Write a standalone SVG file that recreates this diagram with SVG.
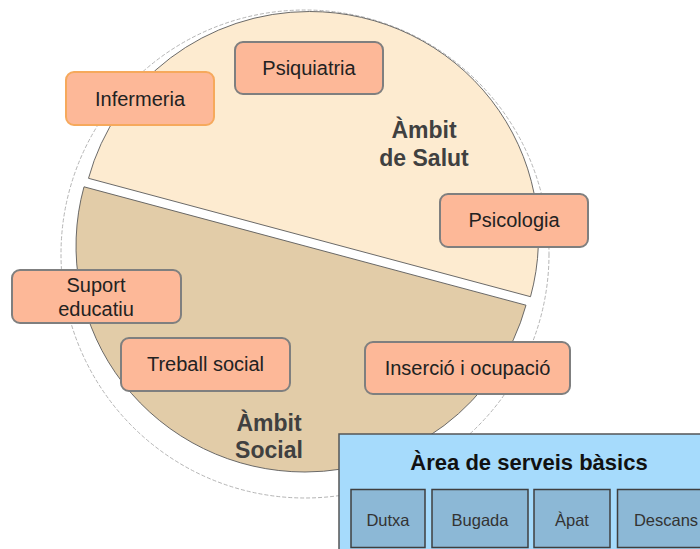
<svg xmlns="http://www.w3.org/2000/svg" width="700" height="549" viewBox="0 0 700 549">
<style>
.pie{stroke:#5a5a5a;stroke-width:0.9}
.box{fill:#fdb898;stroke:#7f7f7f;stroke-width:2}
.bt{font-family:"Liberation Sans",Arial,sans-serif;font-size:20px;fill:#222;text-anchor:middle}
.amb{font-family:"Liberation Sans",Arial,sans-serif;font-size:23px;font-weight:bold;fill:#404040;text-anchor:middle}
.sub{fill:#8cb8d6;stroke:#3f3f3f;stroke-width:1.5}
.st{font-family:"Liberation Sans",Arial,sans-serif;font-size:16.5px;fill:#333;text-anchor:middle}
</style>
<rect width="700" height="549" fill="#fff"/>
<g id="background">
<circle cx="305" cy="254" r="244" fill="none" stroke="#b5b5b5" stroke-width="1" stroke-dasharray="4 2"/>
</g>
<g id="ambit-salut">
<path class="pie" fill="#fdebd0" d="M88.5 178.3 A229 226 0 0 1 309.5 11.5 A229 226 0 0 1 530.5 296.7 Z"/>
<text class="amb" x="424" y="138">Àmbit</text>
<text class="amb" x="424" y="166">de Salut</text>
</g>
<g id="ambit-social">
<path class="pie" fill="#e2cca8" d="M526 305.2 A229 226 0 0 1 305 472 A229 226 0 0 1 84 186.8 Z"/>
<text class="amb" x="269" y="431">Àmbit</text>
<text class="amb" x="269" y="458">Social</text>
</g>
<g id="infermeria">
<rect x="66" y="72" width="148" height="53" rx="8" fill="#fdb898" stroke="#f6a95c" stroke-width="2"/>
<text class="bt" x="140" y="106">Infermeria</text>
</g>
<g id="psiquiatria">
<rect class="box" x="235" y="42" width="148" height="52" rx="8"/>
<text class="bt" x="309" y="75">Psiquiatria</text>
</g>
<g id="psicologia">
<rect class="box" x="440" y="194" width="148" height="53" rx="8"/>
<text class="bt" x="514" y="227">Psicologia</text>
</g>
<g id="suport-educatiu">
<rect class="box" x="12" y="270" width="169" height="53" rx="8"/>
<text class="bt" x="96" y="292">Suport</text>
<text class="bt" x="96" y="316">educatiu</text>
</g>
<g id="treball-social">
<rect class="box" x="121" y="338" width="169" height="53" rx="8"/>
<text class="bt" x="205.5" y="371">Treball social</text>
</g>
<g id="insercio">
<rect class="box" x="365" y="342" width="205" height="52" rx="8"/>
<text class="bt" x="467.5" y="375">Inserció i ocupació</text>
</g>
<g id="area-serveis-basics">
<rect x="339" y="434" width="400" height="160" fill="#a6dbfc" stroke="#555" stroke-width="1.5"/>
<text x="529" y="470" font-family="'Liberation Sans',Arial,sans-serif" font-size="22" font-weight="bold" fill="#111" text-anchor="middle">Àrea de serveis bàsics</text>
</g>
<g id="dutxa">
<rect class="sub" x="351" y="489.5" width="74" height="58"/>
<text class="st" x="388" y="526">Dutxa</text>
</g>
<g id="bugada">
<rect class="sub" x="432" y="489.5" width="96" height="58"/>
<text class="st" x="480" y="526">Bugada</text>
</g>
<g id="apat">
<rect class="sub" x="534" y="489.5" width="76" height="58"/>
<text class="st" x="572" y="526">Àpat</text>
</g>
<g id="descans">
<rect class="sub" x="617.5" y="489.5" width="120" height="58"/>
<text class="st" x="666" y="526">Descans</text>
</g>
<g id="connectors"/>
</svg>
